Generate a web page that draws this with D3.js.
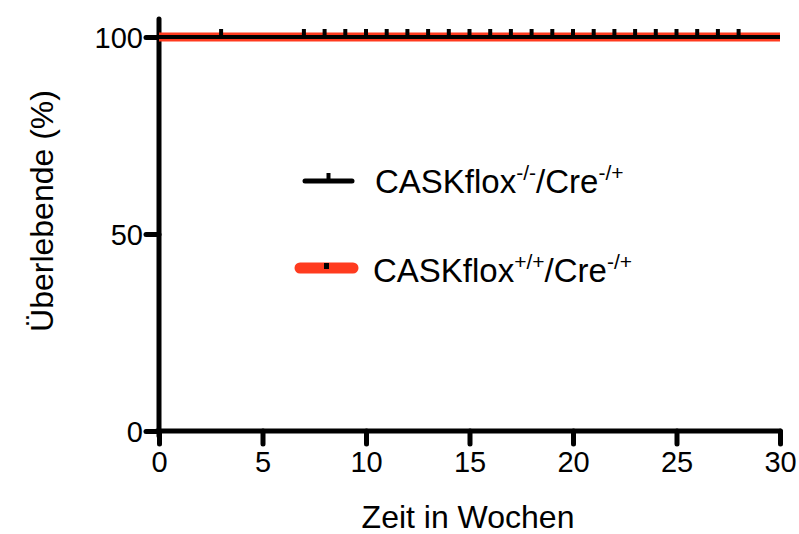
<!DOCTYPE html>
<html><head><meta charset="utf-8">
<script src="https://cdn.jsdelivr.net/npm/d3@7"></script>
<style>body{margin:0;background:#fff}svg{display:block}text{font-family:"Liberation Sans",Arial,sans-serif}</style>
</head><body><svg id="c" width="799" height="534"></svg>
<script>
const xTicks = [0,5,10,15,20,25,30];
const yTicks = [0,50,100];
const seriesNames = ["CASKflox", "CASKflox"];
const seriesSup1 = ["-/-", "+/+"];
const seriesSup2 = ["-/+", "-/+"];
const seriesColors = ["#000000", "#ff3b1f"];
// survival curves (time in weeks, percent surviving)
const knockoutCurve = [[0,100],[30,100]];
const controlCurve = [[0,100],[30,100]];
// censored times (knockout group)
const censorTimes = [3,7,8,9,10,11,12,13,14,15,16,17,18,19,20,21,22,23,24,25,26,27,28];

const svg = d3.select("#c");
const x = d3.scaleLinear().domain([0,30]).range([159,780]);
const y = d3.scaleLinear().domain([0,100]).range([431,37]);

const line = d3.line().x(d=>x(d[0])).y(d=>y(d[1]));

// axes
const xAxis = svg.append("g").attr("transform",`translate(0,${y(0)})`)
  .call(d3.axisBottom(x).tickValues(xTicks).tickSize(13).tickSizeOuter(0).tickPadding(7));
const yAxis = svg.append("g").attr("transform",`translate(${x(0)},0)`)
  .call(d3.axisLeft(y).tickValues(yTicks).tickSize(13).tickSizeOuter(0).tickPadding(3));
[xAxis,yAxis].forEach(g=>{
  g.select(".domain").attr("stroke","#000").attr("stroke-width",5).attr("stroke-linecap","round");
  g.selectAll(".tick line").attr("stroke","#000").attr("stroke-width",5).attr("stroke-linecap","round");
  g.selectAll(".tick text").attr("fill","#000").style("font-size","29px");
});
yAxis.select(".domain").attr("d",`M0,${y(0)+5}V${y(100)-18}`);
xAxis.select(".domain").attr("d",`M${x(0)-2},0H${x(30)}`);
xAxis.selectAll(".tick text").attr("dy","0.71em");
yAxis.selectAll(".tick text").attr("dy","0.36em");

// curves
svg.append("path").datum(controlCurve).attr("d",line).attr("fill","none")
  .attr("stroke",seriesColors[1]).attr("stroke-width",9);
svg.append("path").datum(knockoutCurve).attr("d",line).attr("fill","none")
  .attr("stroke",seriesColors[0]).attr("stroke-width",4);
svg.append("g").selectAll("line").data(censorTimes).join("line")
  .attr("x1",d=>x(d)).attr("x2",d=>x(d))
  .attr("y1",y(100)).attr("y2",y(100)-8)
  .attr("stroke","#000").attr("stroke-width",4);

// axis titles
svg.append("text").attr("x",468).attr("y",528).attr("text-anchor","middle")
  .style("font-size","32px").text("Zeit in Wochen");
svg.append("text").attr("transform","translate(53,211) rotate(-90)").attr("text-anchor","middle")
  .style("font-size","32px").text("Überlebende (%)");

// legend
const leg = [
  {y:181, x1:305, x2:352, w:5, tx:375, by:193},
  {y:268, x1:300, x2:353, w:11, tx:373, by:282}
];
leg.forEach((l,i)=>{
  svg.append("line").attr("x1",l.x1).attr("x2",l.x2).attr("y1",l.y).attr("y2",l.y)
    .attr("stroke",seriesColors[i]).attr("stroke-width",l.w).attr("stroke-linecap","round");
  if(i===0){
    svg.append("line").attr("x1",(l.x1+l.x2)/2).attr("x2",(l.x1+l.x2)/2).attr("y1",l.y).attr("y2",l.y-8)
      .attr("stroke","#000").attr("stroke-width",4);
  } else {
    svg.append("rect").attr("x",(l.x1+l.x2)/2-2.5).attr("y",l.y-5).attr("width",5).attr("height",6).attr("fill","#000");
  }
  const t = svg.append("text").attr("x",l.tx).attr("y",l.by).style("font-size","33px").attr("fill","#000");
  t.append("tspan").text(seriesNames[i]);
  t.append("tspan").attr("dy",-13).style("font-size","21px").text(seriesSup1[i]);
  t.append("tspan").attr("dy",13).text("/Cre");
  t.append("tspan").attr("dy",-13).style("font-size","21px").text(seriesSup2[i]);
});
</script></body></html>
